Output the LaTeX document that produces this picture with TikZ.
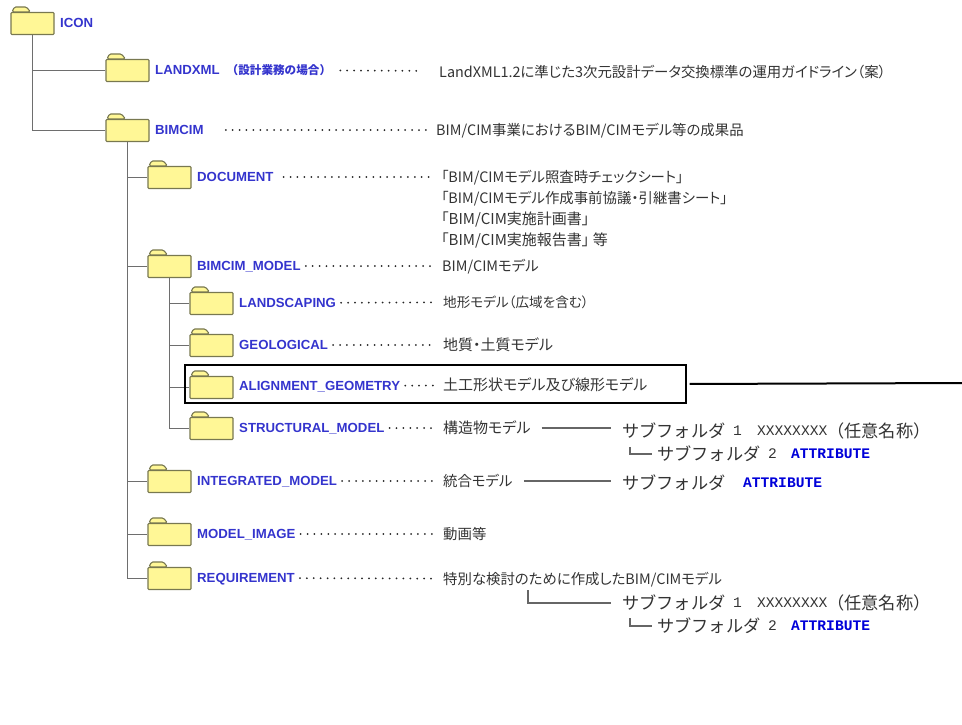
\documentclass[tikz,border=0pt]{standalone}
\usepackage{fontspec}
\usepackage{xcolor}
\setmainfont{Liberation Sans}
\setmonofont{Liberation Mono}
\newfontfamily\cjk{Noto Sans CJK JP}
\newfontfamily\cjkprop[RawFeature=+palt]{Noto Sans CJK JP}
\usetikzlibrary{calc,positioning}
\definecolor{folderfill}{RGB}{255,247,150}
\definecolor{folderline}{RGB}{120,120,80}
\definecolor{labelblue}{RGB}{52,52,205}
\definecolor{branchgray}{RGB}{110,110,110}
\tikzset{
	folder/.style={draw=folderline, fill=folderfill, line width=1.1pt, rounded corners=0.8pt, minimum width=43pt, minimum height=22pt, inner sep=0pt},
	foldertab/.style={draw=folderline, fill=folderfill, line width=1.1pt, rounded corners=1.5pt},
	dirname/.style={anchor=west, inner sep=0pt, text height=9.5pt, text depth=0pt, text=labelblue, font=\fontsize{13.2}{14}\selectfont\bfseries},
	descr/.style={anchor=west, inner sep=0pt, text height=10.5pt, text depth=0pt, text=black!80, font=\fontsize{14.4}{15}\selectfont\cjkprop},
	descrwide/.style={descr, font=\fontsize{15}{16}\selectfont\cjkprop},
	descrtight/.style={descr, font=\fontsize{13.6}{15}\selectfont\cjkprop},
	subname/.style={anchor=west, inner sep=0pt, text=black!80, font=\fontsize{17.2}{18}\selectfont\cjk},
	subplain/.style={anchor=west, inner sep=0pt, text=black!80, font=\fontsize{14.6}{17}\selectfont\ttfamily},
	attr/.style={anchor=west, inner sep=0pt, text=blue!85!black, font=\fontsize{14.6}{17}\selectfont\ttfamily\bfseries},
	branch/.style={draw=branchgray, line width=1.2pt},
	leader/.style={draw=black!85, line width=2pt, line cap=round, dash pattern=on 0pt off 6.9pt, shorten <=5pt, shorten >=10pt},
	subline/.style={draw=black!60, line width=1.1pt},
	frame/.style={draw=black, line width=2pt, minimum width=501pt, minimum height=38pt, inner sep=0pt},
}
\begin{document}
\begin{tikzpicture}[x=1pt,y=-1pt]
		\useasboundingbox (0,0) rectangle (962,724);
		% folders
		\node[folder] (icon) at (32.5,23.5) {};
		\node[folder] (landxml) at (127.5,70.5) {};
		\node[folder] (bimcim) at (127.5,130.5) {};
		\node[folder] (document) at (169.5,177.5) {};
		\node[folder] (model) at (169.5,266.5) {};
		\node[folder] (landscaping) at (211.5,303.5) {};
		\node[folder] (geological) at (211.5,345.5) {};
		\node[folder] (alignment) at (211.5,387.5) {};
		\node[folder] (structural) at (211.5,428.5) {};
		\node[folder] (integrated) at (169.5,481.5) {};
		\node[folder] (image) at (169.5,534.5) {};
		\node[folder] (requirement) at (169.5,578.5) {};
		\foreach \n in {icon,landxml,bimcim,document,model,landscaping,geological,alignment,structural,integrated,image,requirement}
			\draw[foldertab] (\n.north west) ++(1.5,0) -- ++(2.5,-5) -- ++(12,0) -- ++(4,5) -- cycle;

		% names
		\node[dirname] (iconname) at (60,23) {ICON};
		\node[dirname] (landxmlname) at (155,70) {LANDXML\hspace{7pt}{\cjk\fontsize{11.6}{12}\selectfont （設計業務の場合）}};
		\node[dirname] (bimcimname) at (155,130) {BIMCIM};
		\node[dirname] (documentname) at (197,177) {DOCUMENT};
		\node[dirname] (modelname) at (197,266) {BIMCIM\_MODEL};
		\node[dirname] (landscapingname) at (239,303) {LANDSCAPING};
		\node[dirname] (geologicalname) at (239,345) {GEOLOGICAL};
		\node[dirname] (alignmentname) at (239,386) {ALIGNMENT\_GEOMETRY};
		\node[dirname] (structuralname) at (239,428) {STRUCTURAL\_MODEL};
		\node[dirname] (integratedname) at (197,481) {INTEGRATED\_MODEL};
		\node[dirname] (imagename) at (197,534) {MODEL\_IMAGE};
		\node[dirname] (requirementname) at (197,578) {REQUIREMENT};

		% descriptions
		\node[descr] (landxmltext) at (439,72) {LandXML1.2に準じた3次元設計データ交換標準の運用ガイドライン（案）};
		\node[descr] (bimcimtext) at (436,130) {BIM/CIM事業におけるBIM/CIMモデル等の成果品};
		\node[descr] (documenttext) at (441,177) {「BIM/CIMモデル照査時チェックシート」};
		\node[descr] (documenttextb) at (441,198) {「BIM/CIMモデル作成事前協議・引継書シート」};
		\node[descrwide] (documenttextc) at (441,219) {「BIM/CIM実施計画書」};
		\node[descrwide] (documenttextd) at (441,240) {「BIM/CIM実施報告書」 等};
		\node[descr] (modeltext) at (442,266) {BIM/CIMモデル};
		\node[descrtight] (landscapingtext) at (443,302) {地形モデル（広域を含む）};
		\node[descrwide] (geologicaltext) at (443,345) {地質・土質モデル};
		\node[descrwide] (alignmenttext) at (443,385) {土工形状モデル及び線形モデル};
		\node[descrwide] (structuraltext) at (443,428) {構造物モデル};
		\node[descr] (integratedtext) at (443,481) {統合モデル};
		\node[descr] (imagetext) at (443,534) {動画等};
		\node[descr] (requirementtext) at (443,579) {特別な検討のために作成したBIM/CIMモデル};

		% subfolders
		\node[subname] (suba) at (622,431) {サブフォルダ};
		\node[subplain] (subaone) at (733,431) {1};
		\node[subplain] (subax) at (757,431) {XXXXXXXX};
		\node[subname] (subanote) at (827,431) {（任意名称）};
		\node[subname] (subb) at (657,454) {サブフォルダ};
		\node[subplain] (subbtwo) at (768,454) {2};
		\node[attr] (subbattr) at (791,454) {ATTRIBUTE};
		\node[subname] (subc) at (622,483) {サブフォルダ};
		\node[attr] (subcattr) at (743,483) {ATTRIBUTE};
		\node[subname] (subd) at (622,603) {サブフォルダ};
		\node[subplain] (subdone) at (733,603) {1};
		\node[subplain] (subdx) at (757,603) {XXXXXXXX};
		\node[subname] (subdnote) at (827,603) {（任意名称）};
		\node[subname] (sube) at (657,626) {サブフォルダ};
		\node[subplain] (subetwo) at (768,626) {2};
		\node[attr] (subeattr) at (791,626) {ATTRIBUTE};

		\coordinate (subbelbow) at (630,447);
		\coordinate (subeelbow) at (630,618);
		\coordinate (reqelbow) at (528,590);
		\coordinate (offpage) at (962,383);

		% tree
		\draw[branch] (icon.south) |- (landxml.west)
		(icon.south) |- (bimcim.west)
		(bimcim.south) |- (document.west)
		(bimcim.south) |- (model.west)
		(bimcim.south) |- (integrated.west)
		(bimcim.south) |- (image.west)
		(bimcim.south) |- (requirement.west)
		(model.south) |- (landscaping.west)
		(model.south) |- (geological.west)
		(model.south) |- (alignment.west)
		(model.south) |- (structural.west);

		% dots
		\draw[leader] (landxmlname) edge[shorten <=9pt, shorten >=16pt] (landxmltext)
		(bimcimname) edge[shorten <=22pt] (bimcimtext)
		(documentname) edge[shorten <=10pt] (documenttext)
		(modelname) edge (modeltext)
		(landscapingname) edge (landscapingtext)
		(geologicalname) edge (geologicaltext)
		(alignmentname) edge[shorten >=8pt] (alignmenttext)
		(structuralname) edge (structuraltext)
		(integratedname) edge (integratedtext)
		(imagename) edge (imagetext)
		(requirementname) edge (requirementtext);

		% sub lines
		\draw[subline, shorten <=11pt, shorten >=11pt] (structuraltext.east) -- (suba.west |- structuraltext.east);
		\draw[subline, shorten <=11pt, shorten >=11pt] (integratedtext.east) -- (subc.west |- integratedtext.east);
		\draw[subline, shorten >=11pt] (reqelbow) |- (subd.west);
		\draw[subline, shorten >=5pt] (subbelbow) |- (subb.west);
		\draw[subline, shorten >=5pt] (subeelbow) |- (sube.west);

		% selected row
		\node[frame] (selected) at (435,384) {};
		\draw[black, line width=2pt, shorten <=3pt] (selected.east) -- (offpage);
	\end{tikzpicture}
\end{document}
